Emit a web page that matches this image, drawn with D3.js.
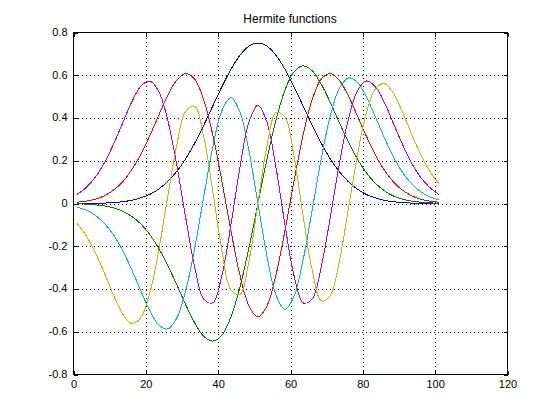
<!DOCTYPE html>
<html lang="en">
<head>
<meta charset="utf-8">
<title>Hermite functions</title>
<script src="https://cdn.jsdelivr.net/npm/d3@7"></script>
<style type="text/css">

  body {
    margin: 0;
    background: #fff;
  }

  text {
    font-family: "Liberation Sans", Arial, sans-serif;
    fill: #000;
  }

  .title {
    font-size: 12px;
  }

  .tick text {
    font-size: 11px;
  }

  .tick line {
    stroke: #000;
    shape-rendering: crispEdges;
  }

  path.domain {
    display: none;
  }

  .grid line {
    stroke: #000;
    stroke-dasharray: 1, 3;
    shape-rendering: crispEdges;
  }

  .box {
    fill: none;
    stroke: #000;
    shape-rendering: crispEdges;
  }

  /* MATLAB-style plots are not anti-aliased */
  .curve {
    fill: none;
    stroke-width: 1;
    shape-rendering: crispEdges;
  }

</style>
</head>
<body>

<div id="vis"></div>

<script type="text/javascript">

/* Data */
/* ==== */

// sample positions (index of the 101-point grid)
var xs = [1, 3.5, 6, 8.5, 11, 13.5, 16, 18.5, 21, 23.5, 26, 28.5, 31, 33.5, 36, 38.5,
  41, 43.5, 46, 48.5, 51, 53.5, 56, 58.5, 61, 63.5, 66, 68.5, 71, 73.5, 76, 78.5,
  81, 83.5, 86, 88.5, 91, 93.5, 96, 98.5, 101];

var h0 = [0.000, 0.001, 0.001, 0.002, 0.004, 0.008, 0.015, 0.026, 0.042, 0.067,
  0.102, 0.149, 0.209, 0.282, 0.366, 0.456, 0.545, 0.627, 0.693, 0.736,
  0.751,
  0.736, 0.693, 0.627, 0.545, 0.456, 0.366, 0.282, 0.209, 0.149, 0.102,
  0.067, 0.042, 0.026, 0.015, 0.008, 0.004, 0.002, 0.001, 0.001, 0.000];

var h1 = [-0.001, -0.003, -0.006, -0.011, -0.020, -0.035, -0.059, -0.094, -0.143, -0.208,
  -0.288, -0.378, -0.473, -0.558, -0.621, -0.644, -0.617, -0.532, -0.392, -0.208,
  0,
  0.208, 0.392, 0.532, 0.617, 0.644, 0.621, 0.558, 0.473, 0.378, 0.288,
  0.208, 0.143, 0.094, 0.059, 0.035, 0.020, 0.011, 0.006, 0.003, 0.001];

var h2 = [0.006, 0.011, 0.020, 0.036, 0.062, 0.100, 0.155, 0.226, 0.314, 0.410,
  0.503, 0.576, 0.608, 0.582, 0.486, 0.322, 0.108, -0.124, -0.333, -0.479,
  -0.531,
  -0.479, -0.333, -0.124, 0.108, 0.322, 0.486, 0.582, 0.608, 0.576, 0.503,
  0.410, 0.314, 0.226, 0.155, 0.100, 0.062, 0.036, 0.020, 0.011, 0.006];

var h3 = [-0.017, -0.031, -0.055, -0.092, -0.145, -0.217, -0.306, -0.404, -0.498, -0.567,
  -0.587, -0.538, -0.409, -0.210, 0.030, 0.263, 0.433, 0.496, 0.429, 0.248,
  0,
  -0.248, -0.429, -0.496, -0.433, -0.263, -0.030, 0.210, 0.409, 0.538, 0.587,
  0.567, 0.498, 0.404, 0.306, 0.217, 0.145, 0.092, 0.055, 0.031, 0.017];

var h4 = [0.043, 0.075, 0.122, 0.189, 0.275, 0.373, 0.471, 0.546, 0.573, 0.527,
  0.394, 0.185, -0.064, -0.297, -0.447, -0.465, -0.339, -0.103, 0.167, 0.380,
  0.460,
  0.380, 0.167, -0.103, -0.339, -0.465, -0.447, -0.297, -0.064, 0.185, 0.394,
  0.527, 0.573, 0.546, 0.471, 0.373, 0.275, 0.189, 0.122, 0.075, 0.043];

var h5 = [-0.093, -0.151, -0.229, -0.324, -0.426, -0.514, -0.561, -0.537, -0.425, -0.226,
  0.026, 0.270, 0.431, 0.455, 0.312, 0.059, -0.216, -0.404, -0.426, -0.270,
  0,
  0.270, 0.426, 0.404, 0.216, -0.059, -0.312, -0.455, -0.431, -0.270, -0.026,
  0.226, 0.425, 0.537, 0.561, 0.514, 0.426, 0.324, 0.229, 0.151, 0.093];

var series = [h0, h1, h2, h3, h4, h5];
var colors = ['#0000ff', '#008000', '#ff0000', '#00bfbf', '#bf00bf', '#bfbf00'];

var xTicks = [0, 20, 40, 60, 80, 100, 120];
var yTicks = [-0.8, -0.6, -0.4, -0.2, 0, 0.2, 0.4, 0.6, 0.8];


/* Set up */
/* ====== */

var W = 560, H = 420;
var margin = { top: 32, left: 73, right: 53, bottom: 46 };
var width = W - margin.left - margin.right;   // 434
var height = H - margin.top - margin.bottom;  // 342

var svg = d3.select('#vis')
  .append('svg')
    .attr('width', W)
    .attr('height', H);

var g = svg.append('g')
    .attr('transform', 'translate(' + (margin.left + 0.5) + ',' + (margin.top + 0.5) + ')');

var xScale = d3.scaleLinear().domain([0, 120]).range([0, width]);
var yScale = d3.scaleLinear().domain([-0.8, 0.8]).range([height, 0]);

var fmt = function(d) { return String(Math.round(d * 10) / 10); };


/* Grid */
/* ---- */

g.append('g')
    .attr('class', 'grid')
    .attr('transform', 'translate(0,' + height + ')')
    .call(d3.axisBottom(xScale).tickValues(xTicks.slice(1, -1)).tickSize(-height).tickFormat(''));

g.append('g')
    .attr('class', 'grid')
    .call(d3.axisLeft(yScale).tickValues(yTicks.slice(1, -1)).tickSize(-width).tickFormat(''));


/* Curves */
/* ------ */

var line = d3.line()
    .x(function(d, i) { return xScale(xs[i]); })
    .y(function(d) { return yScale(d); })
    .curve(d3.curveCatmullRom);

g.selectAll('.curve')
  .data(series).enter()
  .append('path')
    .attr('class', 'curve')
    .attr('stroke', function(d, i) { return colors[i]; })
    .attr('d', line);


/* Axes */
/* ---- */

g.append('g')
    .attr('class', 'x axis')
    .attr('transform', 'translate(0,' + height + ')')
    .call(d3.axisBottom(xScale).tickValues(xTicks).tickSizeInner(-4).tickSizeOuter(0).tickPadding(6));

g.append('g')
    .attr('class', 'x axis top')
    .call(d3.axisTop(xScale).tickValues(xTicks).tickSizeInner(-4).tickSizeOuter(0).tickFormat(''));

g.append('g')
    .attr('class', 'y axis')
    .call(d3.axisLeft(yScale).tickValues(yTicks).tickSizeInner(-4).tickSizeOuter(0).tickPadding(6).tickFormat(fmt));

g.append('g')
    .attr('class', 'y axis right')
    .attr('transform', 'translate(' + width + ',0)')
    .call(d3.axisRight(yScale).tickValues(yTicks).tickSizeInner(-4).tickSizeOuter(0).tickFormat(''));

g.selectAll('.y.axis text').attr('dy', '0.25em');

g.append('rect')
    .attr('class', 'box')
    .attr('width', width)
    .attr('height', height);


/* Title */
/* ----- */

svg.append('text')
    .attr('class', 'title')
    .attr('x', margin.left + width / 2)
    .attr('y', 23)
    .attr('text-anchor', 'middle')
    .text('Hermite functions');

</script>

</body>
</html>
